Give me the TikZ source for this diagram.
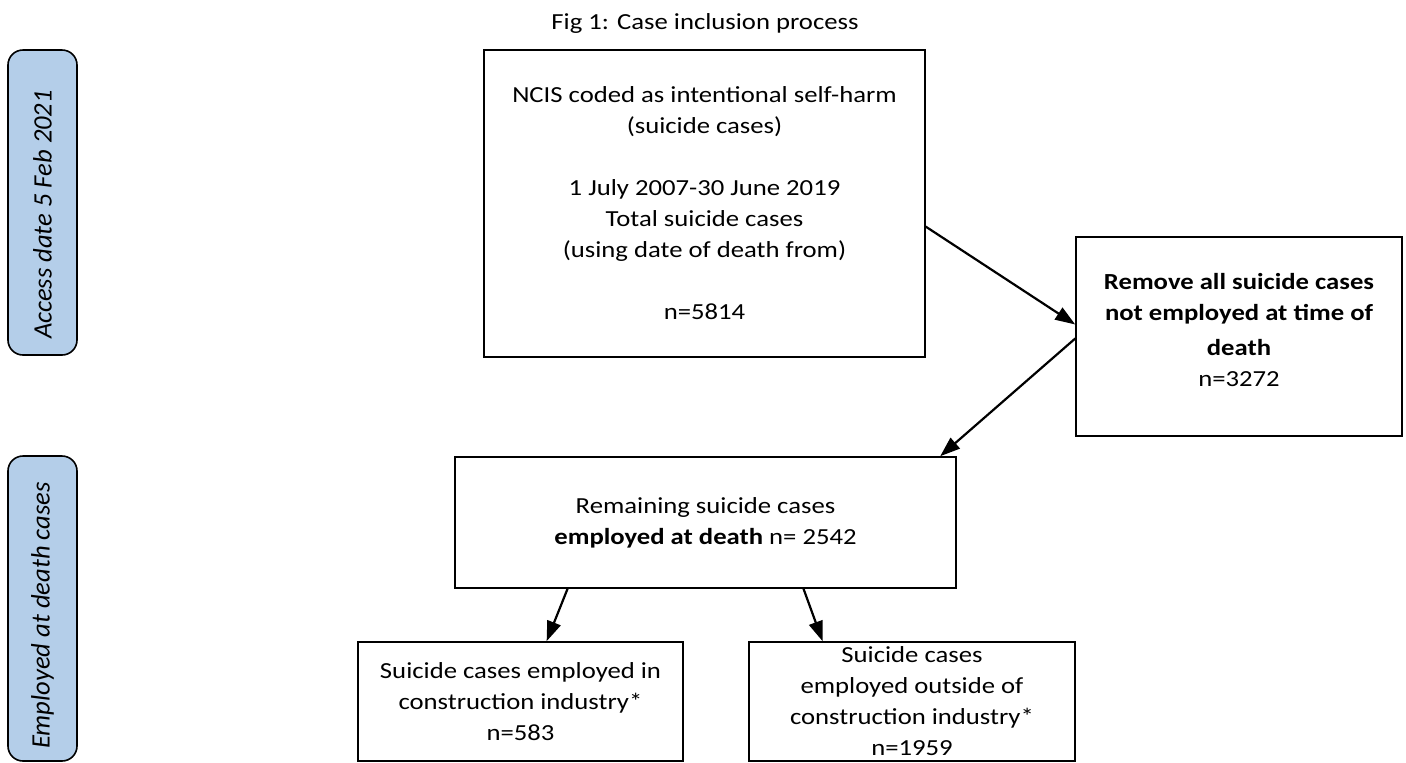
\documentclass[tikz,border=0pt]{standalone}
\usepackage{fontspec}
\setmainfont{Carlito}[FakeStretch=1.16]
\newfontfamily\sidefont{Carlito}
\usetikzlibrary{arrows.meta,calc}
\definecolor{sideblue}{RGB}{180,206,233}
\tikzset{
  flowbox/.style={draw=black, line width=0.8pt, align=center, inner sep=2pt,
    font=\fontsize{11.5}{15.5}\selectfont},
  sidebox/.style={draw=black, line width=0.8pt, fill=sideblue, rounded corners=7.5pt,
    minimum width=34.5pt, minimum height=152.5pt},
  sidetext/.style={rotate=90, font=\sidefont\fontsize{13.3}{16}\selectfont\itshape},
  flowarrow/.style={-{Triangle[length=10pt,width=7pt]}, line width=1.1pt}
}
\begin{document}
\begin{tikzpicture}[x=1pt,y=1pt]
\useasboundingbox (0,0) rectangle (703,-381);
% title
\node[font=\fontsize{11.5}{14}\selectfont] (title) at (352.5,-11.5) {Fig 1: Case inclusion process};
% side boxes
\node[sidebox] (s1) at (21.25,-101.25) {};
\node[sidetext] (s1t) at ([yshift=-6pt]s1.center) {Access date 5 Feb 2021};
\node[sidebox] (s2) at (21.25,-304.25) {};
\node[sidetext] (s2t) at ([yshift=-3.5pt]s2.center) {Employed at death cases};
% main boxes
\node[flowbox, minimum width=220.5pt, minimum height=153.5pt] (A) at (352.25,-101.75)
  {NCIS coded as intentional self-harm\\(suicide cases)\\[15.5pt]1 July 2007-30 June 2019\\Total suicide cases\\(using date of death from)\\[15.5pt]n=5814};
\node[flowbox, minimum width=163pt, minimum height=99.5pt] (B) at (619.5,-168.25) {};
\node[flowbox, draw=none, anchor=center] (Bt) at ([yshift=3.5pt]B.center)
  {\textbf{Remove all suicide cases}\\\textbf{not employed at time of}\\[2pt]\textbf{death}\\n=3272};
\node[flowbox, minimum width=250.5pt, minimum height=65.5pt] (C) at (352.75,-261.25)
  {Remaining suicide cases\\\textbf{employed at death} n= 2542};
\node[flowbox, minimum width=162.5pt, minimum height=59.5pt] (D) at (260.25,-350.75)
  {Suicide cases employed in\\construction industry*\\n=583};
\node[flowbox, minimum width=163pt, minimum height=59.5pt, inner sep=0pt] (E) at (456,-350.75)
  {Suicide cases\\employed outside of\\construction industry*\\n=1959};
% connectors
\draw[flowarrow] ($(A.north east)!0.575!(A.south east)$) -- ($(B.north west)!0.44!(B.south west)$);
\draw[flowarrow] ($(B.north west)!0.51!(B.south west)$) -- ($(C.north west)!0.967!(C.north east)$);
\draw[flowarrow] ($(C.south west)!0.2255!(C.south east)$) -- ($(D.north west)!0.58!(D.north east)$);
\draw[flowarrow] ($(C.south west)!0.695!(C.south east)$) -- ($(E.north west)!0.227!(E.north east)$);
\end{tikzpicture}
\end{document}
